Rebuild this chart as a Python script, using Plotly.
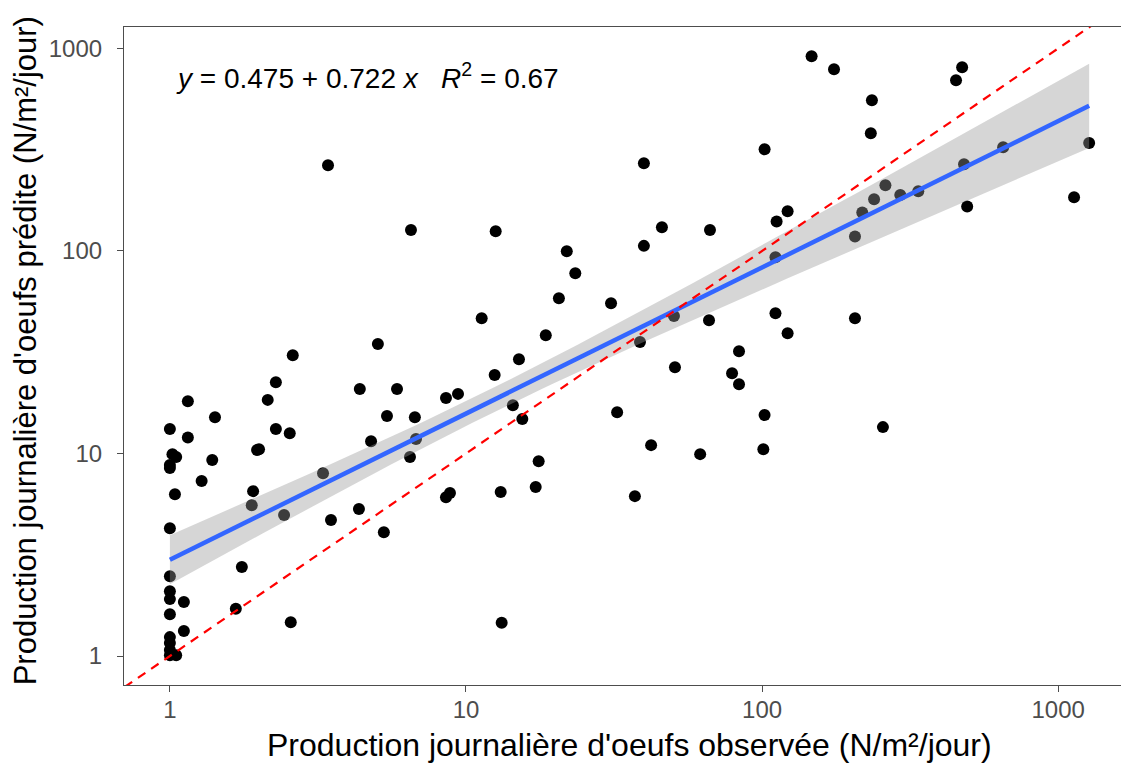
import numpy as np
import plotly.graph_objects as go

observed = [1, 1, 1, 1.02, 1.05, 1.04, 1, 1, 1, 1, 1, 1, 1, 1, 1, 1.05, 1.115, 1.115,
            1.15, 1.15, 1.28, 1.39, 1.42, 1.67, 1.75, 1.91, 1.89, 1.97, 2.0, 2.14, 2.28,
            2.28, 2.54, 2.60, 2.43, 2.56, 3.29, 3.42, 3.50, 4.35, 4.38, 4.78, 5.04, 5.28,
            5.41, 5.85, 6.47, 6.52, 6.72, 6.78, 8.56, 8.83, 8.56, 9.40, 11.3, 12.5, 12.6,
            13.1, 13.2, 14.4, 15.1, 15.5, 17.2, 17.6, 18.6, 20.6, 21.9, 23.4, 30.9, 32.4,
            37.2, 38.7, 39.9, 39.9, 42.2, 45.9, 50.4, 50.8, 61.8, 66.2, 66.7, 79.2, 83.6,
            83.6, 101, 102, 102, 111, 111, 112, 122, 122, 147, 175, 206, 206, 218, 233,
            235, 239, 256, 261, 293, 337, 452, 474, 481, 493, 652, 1132, 1273]
predicted = [13.2, 8.77, 8.47, 9.93, 9.60, 6.30, 4.28, 2.48, 2.09, 1.91, 1.61, 1.24, 1.16,
             1.07, 1.01, 1.01, 1.85, 1.33, 18.1, 12.0, 7.31, 9.28, 15.1, 1.71, 2.75, 6.52,
             5.56, 10.4, 10.5, 18.4, 22.5, 13.2, 12.6, 30.6, 4.97, 1.47, 8.0, 265, 4.69,
             5.32, 20.8, 11.5, 34.7, 4.09, 15.3, 20.8, 9.6, 127, 15.1, 11.8, 6.09, 6.38,
             18.8, 19.7, 46.6, 24.4, 125, 6.45, 1.46, 17.3, 29.2, 14.8, 6.83, 9.17, 38.4,
             58.5, 99.8, 77.7, 55.2, 16.0, 6.16, 35.5, 106, 271, 11.0, 131, 47.7, 26.7,
             9.93, 45.5, 127, 24.9, 32.0, 22.0, 10.5, 15.5, 318, 93.2, 49.3, 140, 157,
             39.3, 915, 789, 118, 46.6, 155, 381, 555, 180, 13.5, 211, 189, 197, 697, 808,
             268, 166, 325, 184, 341]

# Fitted log10-log10 regression, as printed on the chart
fit_intercept = 0.475
fit_slope = 0.722
# Confidence band (in log10 units of y)
band_centre_log_x = 1.07      # where the band is narrowest
band_min_halfwidth = 0.061    # half-width at that point
band_halfwidth_at_x1 = 0.121  # half-width at observed = 1

tick_values = [1, 10, 100, 1000]
tick_labels = ["1", "10", "100", "1000"]
identity_span = [0.1, 10000]

eq_text = ("<i>y</i>\u00a0=\u00a00.475\u00a0+\u00a00.722\u00a0<i>x</i>\u00a0\u00a0\u00a0"
           "<i>R</i><sup>2</sup>\u00a0=\u00a00.67")
x_title = "Production journalière d'oeufs observée (N/m²/jour)"
y_title = "Production journalière d'oeufs prédite (N/m²/jour)"

assert len(observed) == len(predicted)

lx = np.log10(observed)
gx = np.linspace(lx.min(), lx.max(), 80)
gy = fit_intercept + fit_slope * gx
curv = (band_halfwidth_at_x1 ** 2 - band_min_halfwidth ** 2) / band_centre_log_x ** 2
hw = np.sqrt(band_min_halfwidth ** 2 + curv * (gx - band_centre_log_x) ** 2)
upper = gy + hw
lower = gy - hw
fx = 10 ** gx

fig = go.Figure()
fig.add_trace(go.Scatter(x=observed, y=predicted, mode="markers",
                         marker=dict(color="black", size=12, line=dict(width=0)),
                         showlegend=False))
fig.add_trace(go.Scatter(x=np.concatenate([fx, fx[::-1]]),
                         y=np.concatenate([10 ** upper, (10 ** lower)[::-1]]),
                         fill="toself", fillcolor="rgba(153,153,153,0.4)",
                         line=dict(width=0), mode="lines", showlegend=False,
                         hoverinfo="skip"))
fig.add_trace(go.Scatter(x=fx, y=10 ** gy, mode="lines",
                         line=dict(color="#3366FF", width=4.5), showlegend=False))
fig.add_trace(go.Scatter(x=identity_span, y=identity_span, mode="lines",
                         line=dict(color="red", width=2.2, dash="9px,7px"),
                         showlegend=False))

font_family = "Liberation Sans, Arial, sans-serif"
axis_common = dict(
    type="log", showgrid=False, zeroline=False, automargin=False,
    showline=True, linecolor="#4d4d4d", linewidth=1.2,
    ticks="outside", ticklen=6, tickwidth=1.2, tickcolor="#4d4d4d",
    tickvals=tick_values, ticktext=tick_labels,
    tickfont=dict(family=font_family, size=24, color="#4d4d4d"),
)
fig.update_xaxes(**axis_common, range=[-0.155, 3.236], mirror=True, ticklabelstandoff=-3)
fig.update_yaxes(**axis_common, range=[-0.143, 3.106], mirror=False, ticklabelstandoff=10)

fig.add_annotation(text=eq_text, xref="paper", yref="paper", x=0.05, y=0.925,
                   xanchor="left", yanchor="middle", showarrow=False,
                   font=dict(family=font_family, size=28, color="black"))
fig.add_annotation(text=x_title, xref="paper", yref="paper", x=0.503, y=-0.091,
                   xanchor="center", yanchor="middle", showarrow=False,
                   font=dict(family=font_family, size=32, color="black"))
fig.add_annotation(text=y_title, xref="paper", yref="paper", x=-0.098, y=0.508,
                   xanchor="center", yanchor="middle", showarrow=False, textangle=-90,
                   font=dict(family=font_family, size=31, color="black"))

# The page adds an 8px body margin, so the figure is 8px smaller than the window
fig.update_layout(
    width=1121, height=755,
    margin=dict(l=116, r=1, t=19, b=78),
    plot_bgcolor="white", paper_bgcolor="white",
    font=dict(family=font_family),
)
fig.write_html("out.html")
